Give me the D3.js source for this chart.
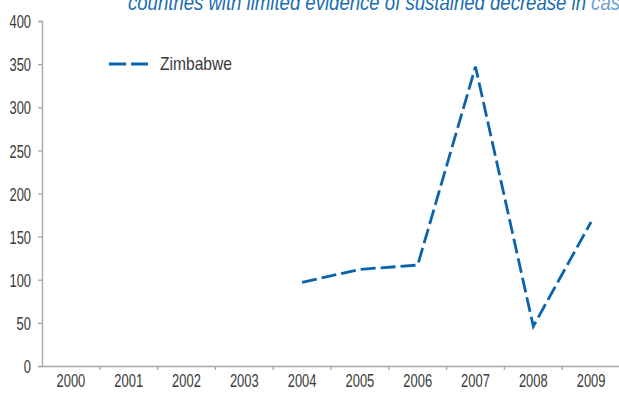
<!DOCTYPE html>
<html><head><meta charset="utf-8">
<script src="https://cdn.jsdelivr.net/npm/d3@7"></script>
<style>
html,body{margin:0;padding:0;background:#fff;overflow:hidden}
svg{display:block}
text{font-family:"Liberation Sans",Arial,sans-serif}
</style></head>
<body><svg id="c" width="619" height="396"></svg>
<script>
const years = ["2000","2001","2002","2003","2004","2005","2006","2007","2008","2009"];
const zimbabwe = [null,null,null,null,97,112,117,347,46,167];
const yTicks = [0,50,100,150,200,250,300,350,400];
const seriesName = "Zimbabwe";
const titleMain = "countries with limited evidence of sustained decrease in ";
const titleTail = "cas";

const svg = d3.select("#c");
const x = d3.scaleBand().domain(years).range([42, 620]).padding(0);
const y = d3.scaleLinear().domain([0,400]).range([366, 21]);

function condense(sel, k){
  sel.each(function(){
    const w = this.getComputedTextLength();
    d3.select(this).attr("textLength", w*k).attr("lengthAdjust","spacingAndGlyphs");
  });
}

// title (clipped at top, as in the reference)
const t = svg.append("text").attr("x",128).attr("y",10)
  .attr("font-size",22).attr("font-style","italic").attr("fill","#1a6db3");
t.append("tspan").text(titleMain);
t.append("tspan").attr("fill","#6b9fd6").text(titleTail);
t.attr("textLength",492).attr("lengthAdjust","spacingAndGlyphs");

// y axis
const ya = svg.append("g").attr("transform","translate(42,0)")
  .call(d3.axisLeft(y).tickValues(yTicks).tickSize(4).tickPadding(7));
ya.select(".domain").attr("stroke","#a6a6a6").attr("stroke-width",1.3);
ya.selectAll(".tick line").attr("stroke","#a6a6a6").attr("stroke-width",1.3);
ya.selectAll("text").attr("font-size",19).attr("fill","#3a3a3a").attr("dy","0.35em");
condense(ya.selectAll("text"), 0.68);

// x axis
const xa = svg.append("g").attr("transform","translate(0,366)")
  .call(d3.axisBottom(x).tickSize(0).tickPadding(8));
xa.select(".domain").attr("stroke","#a6a6a6").attr("stroke-width",1.3);
xa.selectAll("text").attr("font-size",19).attr("fill","#3a3a3a");
condense(xa.selectAll("text"), 0.68);
svg.append("g").selectAll("line").data(years.slice(1)).join("line")
  .attr("x1",d=>x(d)).attr("x2",d=>x(d)).attr("y1",366).attr("y2",370)
  .attr("stroke","#a6a6a6").attr("stroke-width",1.3);

// line
const line = d3.line().defined(d=>d.v!=null)
  .x(d=>x(d.k)+x.bandwidth()/2).y(d=>y(d.v));
svg.append("path").datum(years.map((k,i)=>({k,v:zimbabwe[i]})))
  .attr("d",line).attr("fill","none").attr("stroke","#0a64ad")
  .attr("stroke-width",2.8).attr("stroke-dasharray","15,5");

// legend
svg.append("line").attr("x1",109).attr("x2",149).attr("y1",64).attr("y2",64)
  .attr("stroke","#0a64ad").attr("stroke-width",2.8).attr("stroke-dasharray","17,5");
const lt = svg.append("text").attr("x",160).attr("y",70).attr("font-size",19)
  .attr("fill","#3a3a3a").text(seriesName);
lt.attr("textLength",72).attr("lengthAdjust","spacingAndGlyphs");
</script></body></html>
